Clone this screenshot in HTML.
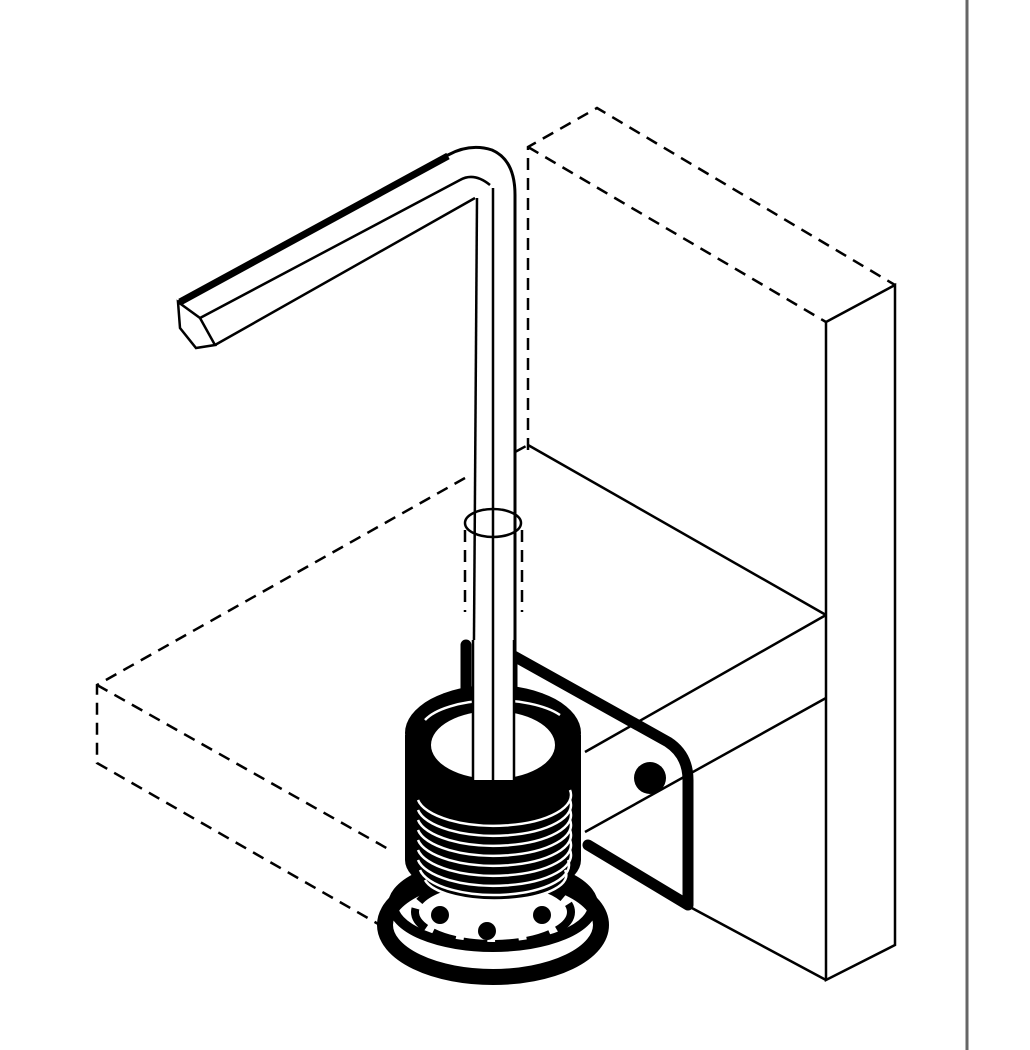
<!DOCTYPE html>
<html><head><meta charset="utf-8"><style>html,body{margin:0;padding:0;background:#fff}svg{display:block}</style></head>
<body>
<svg width="1030" height="1050" viewBox="0 0 1030 1050" xmlns="http://www.w3.org/2000/svg">
<rect width="1030" height="1050" fill="#fff"/>
<line x1="967" y1="0" x2="967" y2="1050" stroke="#666" stroke-width="3"/>
<g fill="none" stroke="#000" stroke-width="2.5">
<g stroke-dasharray="12,8">
<polyline points="528,450 528,147 597,108 895,285"/>
<line x1="528" y1="147" x2="826" y2="322"/>
<polyline points="465,478 97,685 97,763 380,925"/>
<line x1="97" y1="685" x2="390" y2="850"/>
<line x1="515" y1="452" x2="528" y2="445"/>
<line x1="465" y1="530" x2="465" y2="612"/>
<line x1="522" y1="530" x2="522" y2="612"/>
</g>
<polyline points="826,322 895,285 895,945 826,980 826,322"/>
<line x1="528" y1="445" x2="826" y2="615"/>
<line x1="826" y1="615" x2="585" y2="752"/>
<line x1="826" y1="698" x2="585" y2="832"/>
<line x1="690" y1="907" x2="826" y2="980"/>
<path d="M178,302 L448,155 Q470,143 492,150 Q515,160 515,195 L515,780" stroke-width="3"/>
<path d="M180,302 L448,156" stroke-width="7"/>
<path d="M200,318 L460,180 Q474,172 490,185"/>
<path d="M215,345 L475,198"/>
<line x1="477" y1="198" x2="473" y2="780"/>
<line x1="493" y1="188" x2="493" y2="780"/>
<polygon points="178,302 200,318 215,345 196,348 180,328"/>
<ellipse cx="493" cy="523" rx="28" ry="14"/>
</g>
<g fill="none" stroke="#000" stroke-width="11" stroke-linejoin="round" stroke-linecap="round">
<path d="M512,655 L668,742 Q688,755 688,780 L688,905 L588,845"/>
<line x1="466" y1="645" x2="466" y2="700"/>
<line x1="512" y1="655" x2="512" y2="700"/>
</g>
<circle cx="650" cy="778" r="16" fill="#000"/>
<ellipse cx="493" cy="925" rx="108" ry="52" fill="#fff" stroke="#000" stroke-width="16"/>
<ellipse cx="493" cy="905" rx="100" ry="42" fill="none" stroke="#000" stroke-width="10"/>
<ellipse cx="493" cy="912" rx="78" ry="32" fill="none" stroke="#000" stroke-width="8" stroke-dasharray="24,8"/>
<g fill="#000"><circle cx="487" cy="931" r="9"/><circle cx="542" cy="915" r="9"/><circle cx="440" cy="915" r="9"/></g>
<path d="M405,735 L405,860 A88,40 0 0 0 581,860 L581,735 Z" fill="#000"/>
<ellipse cx="493" cy="733" rx="88" ry="48" fill="#000"/>
<g fill="none" stroke="#fff" stroke-width="2.5">
<path d="M418,800 A75,30 0 0 0 570,790"/>
<path d="M418,810 A75,30 0 0 0 570,800"/>
<path d="M418,820 A75,30 0 0 0 570,810"/>
<path d="M418,830 A75,30 0 0 0 570,820"/>
<path d="M418,840 A75,30 0 0 0 570,830"/>
<path d="M418,850 A75,30 0 0 0 570,840"/>
<path d="M418,860 A75,30 0 0 0 570,850"/>
<path d="M420,870 A75,30 0 0 0 568,860"/>
<path d="M425,880 A70,25 0 0 0 565,870"/>
<path d="M425,720 A75,30 0 0 1 560,715"/>
</g>
<ellipse cx="493" cy="745" rx="62" ry="34" fill="#fff"/>
<rect x="474" y="640" width="40" height="140" fill="#fff"/>
<g stroke="#000" stroke-width="2.5">
<line x1="473" y1="640" x2="473" y2="780"/>
<line x1="493" y1="640" x2="493" y2="780"/>
<line x1="514" y1="640" x2="514" y2="780"/>
</g>
</svg>
</body></html>
